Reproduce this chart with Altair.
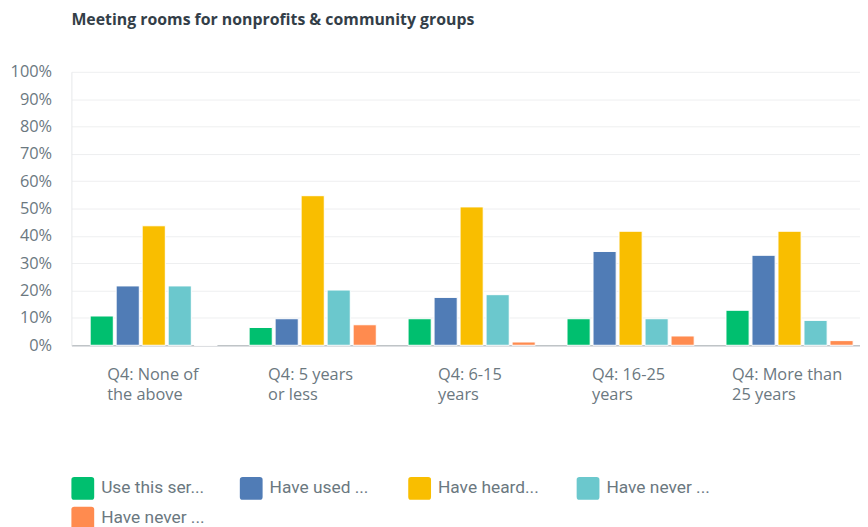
import altair as alt
import pandas as pd

categories = ["Q4: None of the above", "Q4: 5 years or less", "Q4: 6-15 years",
              "Q4: 16-25 years", "Q4: More than 25 years"]
label_lines = {
    "Q4: None of the above": ["Q4: None of", "the above"],
    "Q4: 5 years or less": ["Q4: 5 years", "or less"],
    "Q4: 6-15 years": ["Q4: 6-15", "years"],
    "Q4: 16-25 years": ["Q4: 16-25", "years"],
    "Q4: More than 25 years": ["Q4: More than", "25 years"],
}
series = ["Use this ser...", "Have used ...", "Have heard...", "Have never ...", "Have never ... "]
colors = ["#00BF6F", "#507CB6", "#F9BE00", "#6BC8CD", "#FF8B4F"]

use_this = [0.107, 0.065, 0.097, 0.097, 0.128]
have_used = [0.217, 0.097, 0.175, 0.343, 0.329]
have_heard = [0.437, 0.547, 0.506, 0.417, 0.417]
never_a = [0.217, 0.202, 0.185, 0.097, 0.091]
never_b = [0.0, 0.075, 0.012, 0.034, 0.017]

values = [use_this, have_used, have_heard, never_a, never_b]
rows = []
for s, vals in zip(series, values):
    for c, v in zip(categories, vals):
        rows.append({"cat": c, "series": s, "value": v})
df = pd.DataFrame(rows)

label_expr = "{" + ",".join(
    f"'{k}': ['{a}', '{b}']" for k, (a, b) in label_lines.items()
) + "}[datum.value]"

# left-aligned label blocks, centred under each group by their widest line
label_shift = {
    "Q4: None of the above": -47,
    "Q4: 5 years or less": -45,
    "Q4: 6-15 years": -34,
    "Q4: 16-25 years": -39,
}
label_offset = {
    "condition": [{"test": f"datum.value == '{k}'", "value": v} for k, v in label_shift.items()],
    "value": -58,
}

font = "Open Sans"
gray = "#6B787F"

rounded = ("M -0.75 -1 H 0.75 Q 1 -1 1 -0.75 V 0.75 Q 1 1 0.75 1 H -0.75 "
           "Q -1 1 -1 0.75 V -0.75 Q -1 -1 -0.75 -1 Z")

chart = alt.Chart(df).mark_bar(stroke="white", strokeWidth=1).encode(
    x=alt.X("cat:N", sort=categories, title=None,
            scale=alt.Scale(paddingInner=0.2, paddingOuter=0.118, range=[0, 808]),
            axis=alt.Axis(labelAngle=0, labelExpr=label_expr, labelFont=font,
                          labelFontSize=16.5, labelColor=gray, labelPadding=22,
                          labelLineHeight=20, ticks=False, domain=True,
                          labelAlign="left", labelOffset=label_offset,
                          domainColor="#BFC4C7", domainWidth=1.5, labelLimit=220)),
    xOffset=alt.XOffset("series:N", sort=series,
                        scale=alt.Scale(paddingInner=0.11)),
    y=alt.Y("value:Q", title=None,
            scale=alt.Scale(domain=[0, 1], nice=False),
            axis=alt.Axis(format=".0%", values=[i / 10 for i in range(11)],
                          labelFont=font, labelFontSize=16.5, labelColor=gray,
                          labelPadding=20, ticks=False, domain=True,
                          domainColor="#E6E8EA", gridColor="#EEEFF0",
                          labelBaseline="middle")),
    color=alt.Color("series:N", sort=series,
                    scale=alt.Scale(domain=series, range=colors),
                    legend=alt.Legend(title=None, orient="none", legendX=0, legendY=409,
                                      direction="horizontal", columns=4, gridAlign="all",
                                      symbolType=rounded, symbolSize=529,
                                      symbolStrokeWidth=0, symbolOpacity=1,
                                      labelFont="Roboto", labelFontSize=17.5,
                                      labelColor=gray, labelOffset=7,
                                      columnPadding=35, rowPadding=7,
                                      labelLimit=200)),
).properties(
    width=796, height=276,
    title=alt.TitleParams("Meeting rooms for nonprofits & community groups",
                          anchor="start", frame="group", font=font, fontSize=16,
                          fontWeight="bold", color="#333E48", offset=36),
    autosize=alt.AutoSizeParams(type="none"),
    padding={"left": 64, "top": 62, "right": 0, "bottom": 181},
).configure_view(stroke=None)

chart.save("out.html", embed_options={"renderer": "svg", "actions": False})
